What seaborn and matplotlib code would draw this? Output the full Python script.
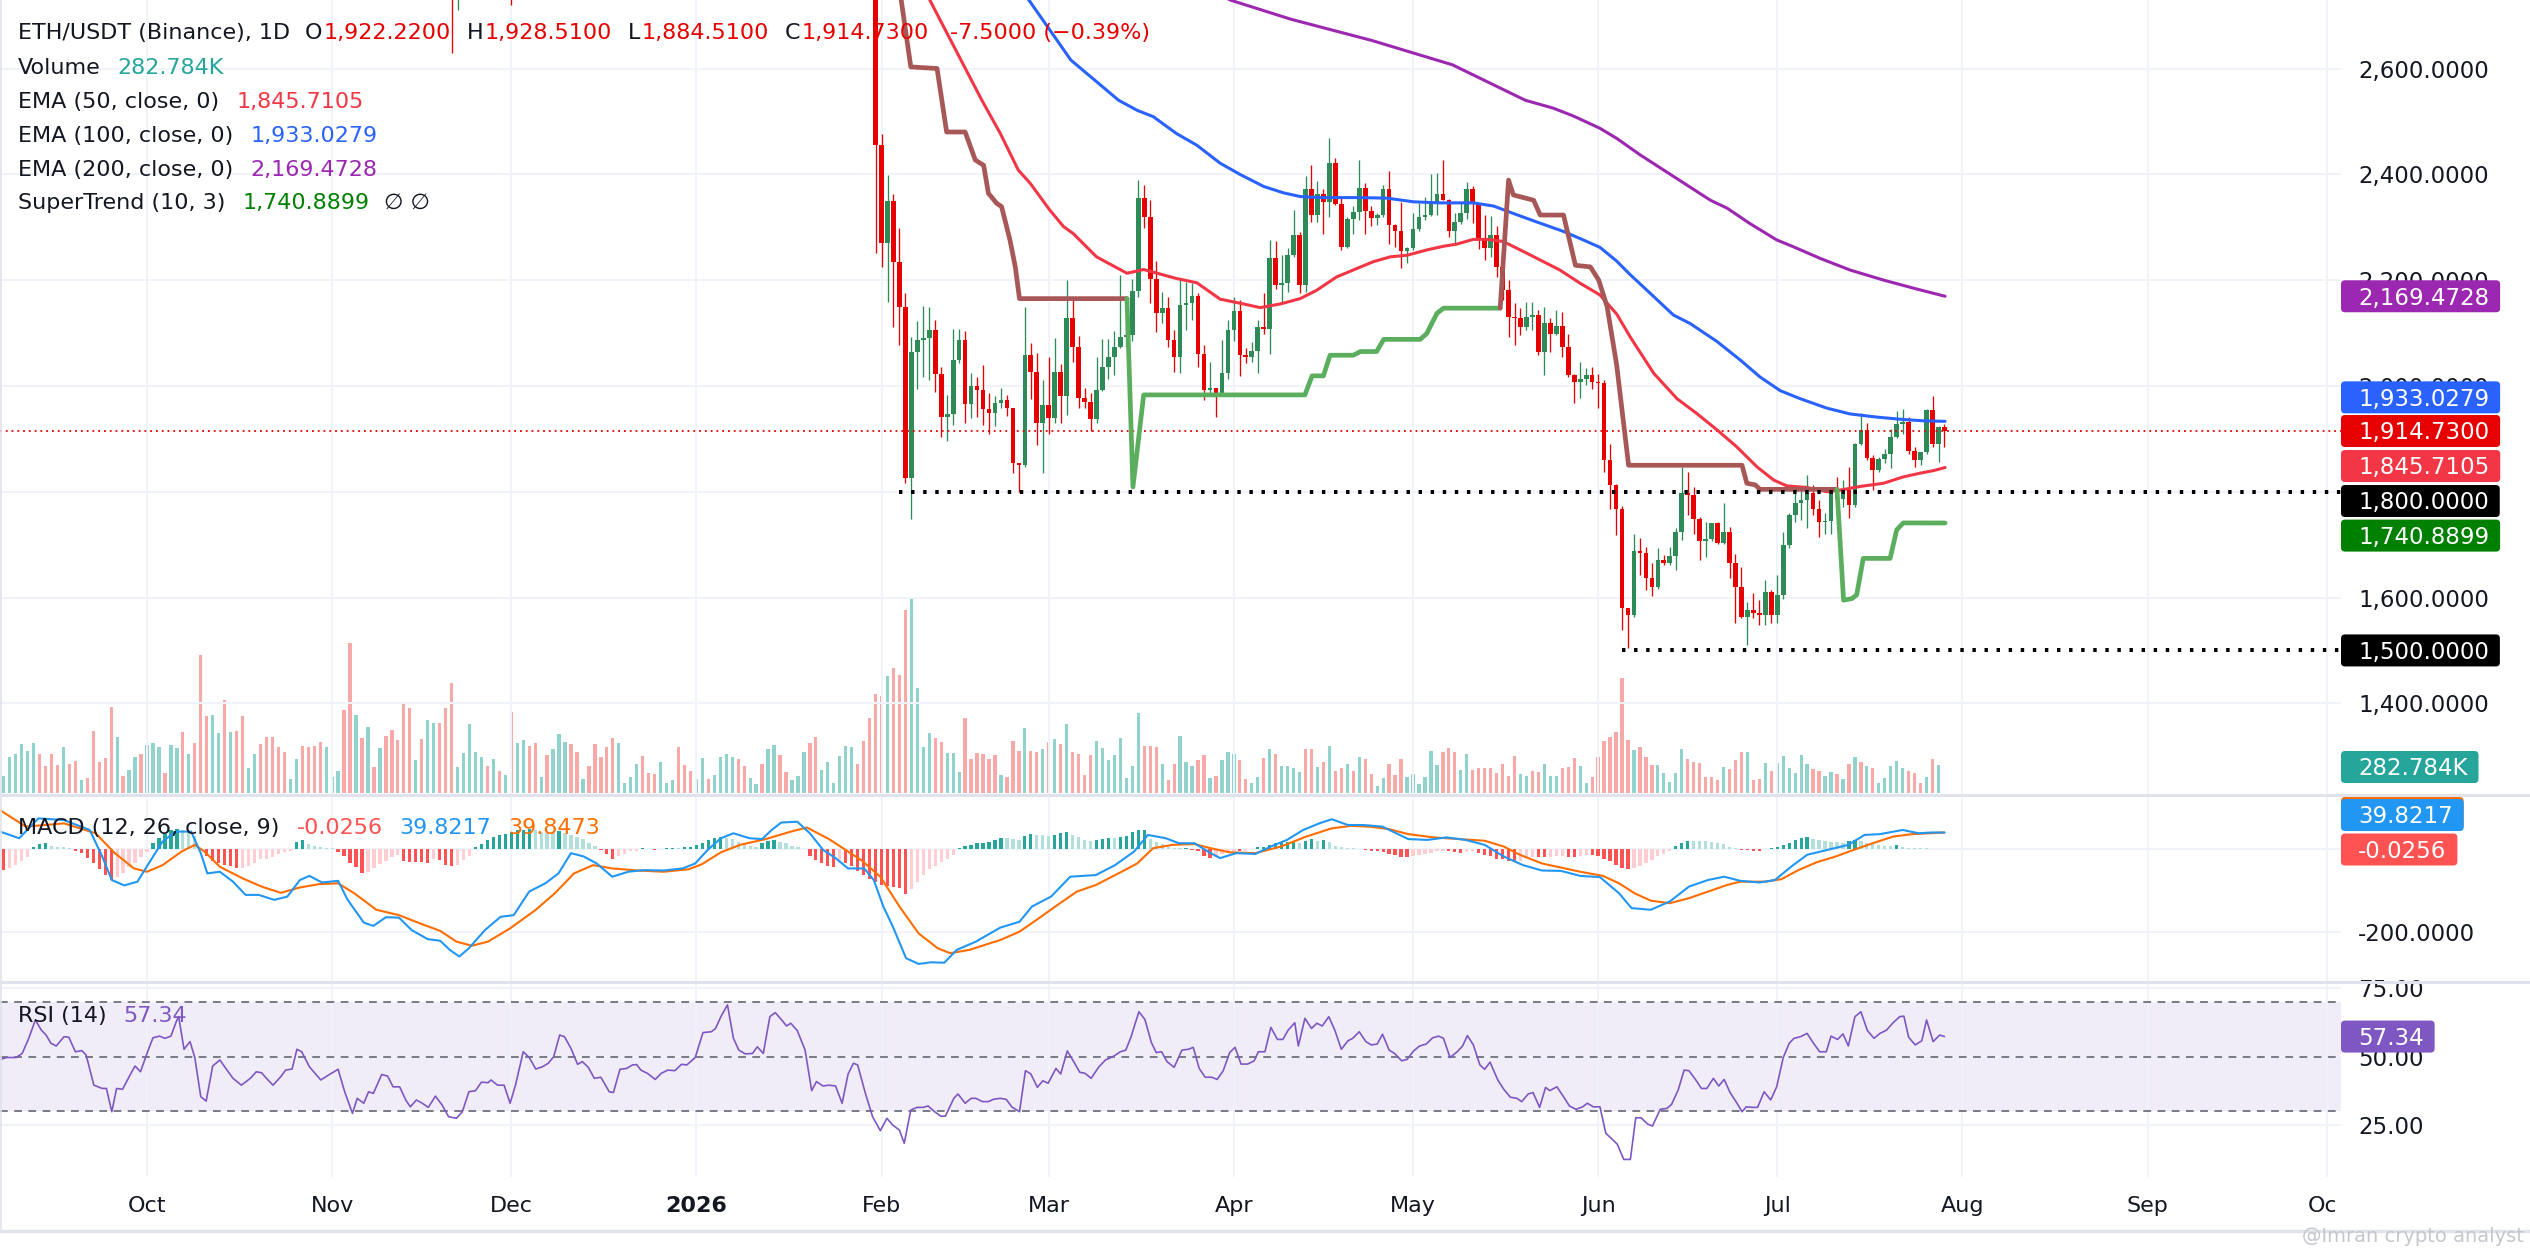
import numpy as np
import pandas as pd
import matplotlib
matplotlib.use("Agg")
import matplotlib.pyplot as plt
import matplotlib.dates as mdates
from matplotlib.patches import FancyBboxPatch, Rectangle
from matplotlib.lines import Line2D
from matplotlib.transforms import IdentityTransform
from matplotlib.ticker import FixedLocator, FuncFormatter
import seaborn as sns

# ============================ DATA ============================
T0 = "2025-10-01"   # day 0 for all *_day arrays

# ---- daily candles ETH/USDT from 2026-01-31 ----
candle_start = "2026-01-31"
opens = [2780,
    2455, 2271, 2349, 2235, 2149, 1825, 2064, 2087, 2090, 2106, 2022, 1941, 1947, 2049, 2087, 1965, 1999, 1992, 1956, 1948,
    1968, 1973, 1958, 1855, 1850, 2058, 2027, 1929,
    1964, 1939, 2027, 1981, 2128, 2073, 1978, 1969, 1937, 1992, 2036, 2054, 2074, 2092, 2096, 2179, 2355, 2319, 2203, 2137,
    2147, 2086, 2054, 2153, 2156, 2170, 2060, 1992, 1996, 1985, 2025,
    2106, 2142, 2058, 2055, 2066, 2112, 2108, 2242, 2191, 2194, 2247, 2286, 2191, 2372, 2324, 2362, 2348, 2422, 2343, 2263,
    2315, 2329, 2375, 2331, 2317, 2323, 2373, 2305, 2292, 2255,
    2260, 2296, 2319, 2323, 2348, 2362, 2351, 2292, 2309, 2327, 2373, 2344, 2276, 2260, 2285, 2225, 2181, 2131, 2128, 2112,
    2131, 2134, 2065, 2118, 2099, 2113, 2073, 2021, 2008, 2014, 2020,
    2008, 2006, 1860, 1813, 1768, 1580, 1567, 1687, 1684, 1636, 1619, 1671, 1665, 1678, 1724, 1797, 1794, 1748, 1707, 1711,
    1740, 1704, 1724, 1665, 1619, 1564, 1576, 1571, 1567, 1611,
    1567, 1605, 1699, 1756, 1778, 1784, 1797, 1768, 1743, 1745, 1797, 1787, 1803, 1775, 1891, 1917, 1863, 1841, 1861, 1871,
    1903, 1928, 1932, 1877, 1860, 1876, 1954, 1891, 1922.22]
highs = [2800,
    2477, 2398, 2362, 2299, 2176, 2093, 2123, 2151, 2149, 2125, 2036, 1982, 2108, 2108, 2104, 2024, 2016, 2040, 1987, 1981,
    1996, 1983, 1958, 1855, 2149, 2082, 2063, 2011,
    2054, 2090, 2041, 2200, 2164, 2094, 1996, 1987, 2054, 2088, 2088, 2103, 2210, 2125, 2203, 2389, 2380, 2351, 2236, 2178,
    2169, 2106, 2200, 2197, 2195, 2175, 2077, 2046, 1996, 2086, 2125,
    2168, 2162, 2072, 2083, 2124, 2175, 2276, 2273, 2247, 2260, 2332, 2291, 2397, 2418, 2387, 2373, 2468, 2430, 2357, 2320,
    2340, 2427, 2383, 2340, 2326, 2380, 2406, 2307, 2348, 2263,
    2326, 2345, 2358, 2401, 2402, 2427, 2353, 2326, 2348, 2386, 2378, 2346, 2323, 2321, 2302, 2225, 2200, 2156, 2147, 2159,
    2158, 2143, 2150, 2128, 2143, 2140, 2099, 2023, 2046, 2033, 2036,
    2022, 2011, 1891, 1814, 1773, 1580, 1721, 1712, 1696, 1665, 1693, 1680, 1696, 1731, 1847, 1838, 1809, 1753, 1743, 1741,
    1742, 1778, 1734, 1682, 1658, 1592, 1608, 1596, 1634, 1614,
    1642, 1724, 1759, 1797, 1806, 1832, 1813, 1784, 1759, 1806, 1828, 1822, 1847, 1892, 1948, 1929, 1869, 1866, 1880, 1918,
    1953, 1956, 1942, 1885, 1876, 1956, 1980, 1925, 1928.51]
lows = [2252,
    2224, 2159, 2112, 2077, 1816, 1748, 1995, 2017, 2011, 1989, 1904, 1896, 1926, 2043, 1929, 1939, 1942, 1926, 1909, 1924,
    1958, 1943, 1836, 1800, 1847, 1976, 1888, 1835,
    1909, 1930, 1930, 1945, 2046, 1958, 1958, 1915, 1930, 1990, 2014, 2021, 2071, 2074, 2084, 2169, 2298, 2156, 2101, 2118,
    2073, 2027, 2024, 2106, 2125, 2036, 1973, 1983, 1941, 1983, 2014,
    2084, 2019, 2043, 2046, 2024, 2099, 2061, 2184, 2159, 2178, 2244, 2176, 2178, 2310, 2310, 2288, 2320, 2342, 2257, 2260,
    2288, 2314, 2288, 2302, 2304, 2320, 2269, 2263, 2222, 2233,
    2257, 2293, 2314, 2321, 2323, 2351, 2282, 2266, 2307, 2315, 2308, 2258, 2238, 2244, 2206, 2162, 2093, 2077, 2096, 2106,
    2106, 2058, 2021, 2065, 2096, 2055, 2017, 1968, 1978, 2002, 1995,
    1958, 1838, 1768, 1718, 1539, 1504, 1564, 1642, 1614, 1602, 1617, 1661, 1661, 1652, 1709, 1756, 1721, 1671, 1677, 1706,
    1702, 1702, 1636, 1551, 1562, 1510, 1561, 1548, 1548, 1551,
    1551, 1598, 1693, 1743, 1746, 1731, 1756, 1715, 1721, 1721, 1784, 1772, 1750, 1771, 1888, 1860, 1803, 1838, 1854, 1844,
    1901, 1910, 1872, 1847, 1851, 1872, 1885, 1857, 1884.51]
closes = [2455,
    2271, 2349, 2235, 2149, 1825, 2064, 2087, 2090, 2106, 2022, 1941, 1947, 2049, 2087, 1965, 1999, 1992, 1956, 1948, 1968,
    1973, 1958, 1855, 1850, 2058, 2027, 1929, 1964,
    1939, 2027, 1981, 2128, 2073, 1978, 1969, 1937, 1992, 2036, 2054, 2074, 2092, 2096, 2179, 2355, 2319, 2203, 2137, 2147,
    2086, 2054, 2153, 2156, 2170, 2060, 1992, 1996, 1985, 2025, 2106,
    2142, 2058, 2055, 2066, 2112, 2108, 2242, 2191, 2194, 2247, 2286, 2191, 2372, 2324, 2362, 2348, 2422, 2343, 2263, 2315,
    2329, 2375, 2331, 2317, 2323, 2373, 2305, 2292, 2255, 2260,
    2296, 2319, 2323, 2348, 2362, 2351, 2292, 2309, 2327, 2373, 2344, 2276, 2260, 2285, 2225, 2181, 2131, 2128, 2112, 2131,
    2134, 2065, 2118, 2099, 2113, 2073, 2021, 2008, 2014, 2020, 2008,
    2006, 1860, 1813, 1768, 1580, 1567, 1687, 1684, 1636, 1619, 1671, 1665, 1678, 1724, 1797, 1794, 1748, 1707, 1711, 1740,
    1704, 1724, 1665, 1619, 1564, 1576, 1571, 1567, 1611, 1567,
    1605, 1699, 1756, 1778, 1784, 1797, 1768, 1743, 1745, 1797, 1787, 1803, 1775, 1891, 1917, 1863, 1841, 1861, 1871, 1903,
    1928, 1932, 1877, 1860, 1876, 1954, 1891, 1922.23, 1914.73]

# ---- older candles (mostly above the visible price range) ----
early_dates = ["2025-11-21", "2025-11-22", "2025-12-01"]
early_open = [2850, 2780, 2900]
early_high = [2900, 2880, 2950]
early_low = [2629, 2711, 2720]
early_close = [2780, 2850, 2800]

# ---- daily volume (thousands) from 2025-09-07 ----
vol_start = "2025-09-07"
volume_k = [
    170, 367, 400, 497, 428, 510, 394, 275, 400, 282, 469, 289, 323, 129, 146, 632, 316, 350, 877, 564,
    170, 231, 367, 394, 486, 510, 469, 204, 486, 452, 622, 394, 510, 1404, 782, 792, 612, 945, 622, 632,
    782, 248, 394, 497, 564, 564, 469, 418, 136, 344, 476, 469, 476, 520, 469, 163, 221, 843, 1530, 792,
    561, 673, 265, 459, 578, 639, 537, 918, 860, 333, 544, 741, 707, 707, 860, 1122, 265, 401, 700, 418,
    360, 272, 344, 221, 180, 823, 510, 537, 476, 510, 163, 384, 442, 598, 520, 497, 418, 136, 272, 497,
    367, 469, 554, 503, 102, 163, 293, 377, 197, 190, 309, 102, 129, 469, 282, 224, 136, 350, 136, 180,
    367, 391, 367, 340, 275, 146, 88, 293, 442, 486, 384, 214, 129, 173, 418, 503, 564, 231, 316, 102,
    374, 476, 469, 293, 530, 758, 1006, 986, 1190, 1268, 1200, 1870, 2000, 1064, 469, 605, 554, 520, 408, 401,
    214, 758, 340, 401, 394, 340, 384,
    180, 163, 527, 425, 663, 425, 415, 446, 520, 548, 497, 700, 411, 394, 180, 384, 527, 459, 333, 384,
    561, 153, 275, 809, 476, 476, 466, 293, 129, 293, 581, 316, 275, 333, 384, 153, 170, 333, 418, 394,
    333, 140, 95, 163, 357, 446, 394, 275, 275, 255, 214, 446, 446, 265, 316, 480, 221, 255, 293, 224,
    367, 344, 187, 71, 153, 293, 180, 344, 163, 190, 88, 163, 425, 282, 418, 459, 418, 231, 394, 231,
    255, 255, 255, 197, 289, 173, 374, 187, 173, 221, 214, 293, 173, 173, 255, 265, 350, 275, 102, 163,
    367, 527, 571, 622, 1166, 537, 435, 469, 367, 282, 282, 197, 112, 204, 446, 344, 316, 306, 163, 163,
    129, 265, 242, 333, 418, 418, 129, 140, 306, 224, 299, 374, 248, 197, 384, 293, 242, 221, 170, 207,
    187, 140, 289, 367, 309, 275, 255, 102, 153, 275, 323, 255, 221, 197, 95, 156, 344, 282.784]
volume_dir = ("uuuuuu dddd u dd u ddddd u d uu d uuu d uu d u ddd uu d u dd uu ddddd uu dddd uuu dd u d u d u "
              "ddddd u d uu ddd uuuuu d u d u d uu dd u d uuu dd u ddddd uuuu ddd uuu ddd uu d uuuu dd uu d uu "
              "dd uuu dd uuuuuu ddddd u ddd uuuu dd uuu dddddd "
              "uddduddudu dudddduuuu uuuudddudd uuudduduuu dduududuuu uddududdud udduuddduu uuuuddduud "
              "ddddddduud duuuddduud dddddduddd uuuuuddddd duddduddud uuuuuudduu dudududuuu uudddudu")

# ---- EMAs (day offset from T0, value) ----
ema50_day = [126, 131.1, 139.8, 142.9, 145.9, 147.9, 151.2, 153.5, 155.1, 159.0, 164.1, 166.9, 172.4, 175.8, 179.7,
             183.6, 186.4, 189.8, 193.1, 195.9, 199.2, 202.6, 205.4, 208.2, 211.0, 214.3, 217.1, 219.3, 222.1, 224.4,
             227.1, 230.5, 233.3, 236.6, 240.0, 243.3, 246.1, 248.4, 252.3, 256.2, 259.5, 262.9, 266.2, 269.6, 272.4,
             274.6, 278.0, 281.3, 283.5, 286.9, 290.8, 294.1, 296.9, 299.2, 301.1]
ema50_val = [2880, 2729, 2540, 2477, 2408, 2383, 2332, 2301, 2288, 2244, 2213, 2220, 2203, 2195, 2164,
             2155, 2148, 2155, 2165, 2181, 2206, 2222, 2235, 2244, 2247, 2257, 2264, 2268, 2277, 2277,
             2273, 2254, 2238, 2219, 2194, 2172, 2136, 2092, 2024, 1976, 1948, 1917, 1885, 1847, 1822,
             1811, 1808, 1800, 1803, 1810, 1816, 1828, 1835, 1840, 1845.7105]
ema100_day = [140, 147.7, 154.7, 162.7, 165.8, 168.5, 172.4, 175.8, 179.7, 183.0, 187.0, 190.3, 193.1, 196.4, 202.6,
              207.6, 212.1, 216.5, 222.1, 225.5, 228.8, 232.7, 237.2, 240.5, 243.3, 246.1, 248.4, 252.3, 255.6, 258.4,
              262.9, 266.8, 270.1, 273.5, 276.8, 281.3, 285.2, 289.7, 293.6, 297.5, 301.1]
ema100_val = [2840, 2729, 2616, 2540, 2521, 2509, 2477, 2455, 2421, 2400, 2377, 2365, 2358, 2356, 2356,
              2355, 2348, 2346, 2346, 2340, 2326, 2310, 2292, 2276, 2262, 2236, 2210, 2169, 2134, 2118,
              2084, 2049, 2017, 1991, 1976, 1958, 1947, 1941, 1937, 1934, 1933.0279]
ema200_day = [170, 181.5, 191.6, 205.1, 218.6, 230.8, 235.5, 238.9, 243.3, 246.1, 250.0, 261.8, 264.6, 268.4, 272.9,
              275.7, 280.2, 285.2, 290.8, 296.4, 301.1]
ema200_val = [2790, 2729, 2693, 2653, 2607, 2540, 2525, 2510, 2487, 2468, 2437, 2351, 2336, 2307, 2276,
              2263, 2241, 2219, 2200, 2183, 2169.4728]

# ---- SuperTrend (10, 3) segments ----
st_dn1_day = [124, 126.3, 127.9, 132.3, 133.9, 137.0, 138.7, 140.1, 140.9, 142.3, 143.1, 144.5, 145.4, 146.1, 164.1]
st_dn1_val = [2800, 2729, 2603, 2600, 2480, 2480, 2427, 2417, 2364, 2345, 2339, 2276, 2225, 2165, 2165]
st_up1_day = [164.1, 165.1, 166.9, 193.9, 195.1, 197.0, 198.1, 202.0, 203.2, 205.9, 207.1, 213.2, 214.3, 216.0, 217.1, 226.6]
st_up1_val = [2165, 1809, 1983, 1983, 2019, 2019, 2058, 2058, 2065, 2065, 2088, 2088, 2099, 2137, 2147, 2147]
st_dn2_day = [226.6, 228.0, 228.8, 232.2, 233.3, 237.2, 239.2, 241.7, 243.1, 244.5, 246.1, 248.1, 267.1, 267.9, 269.3, 270.1, 283.0]
st_dn2_val = [2147, 2389, 2361, 2351, 2323, 2323, 2228, 2225, 2200, 2150, 2040, 1850, 1850, 1816, 1813, 1804.5, 1804.5]
st_up2_day = [283.0, 284.1, 285.5, 286.3, 287.4, 291.9, 293.0, 294.1, 301.1]
st_up2_val = [1804.5, 1595, 1598, 1605, 1674, 1674, 1728, 1741, 1740.8899]

# ---- horizontal level drawings ----
level_values = [1800, 1500]
level_start = ["2026-02-04", "2026-06-05"]

# ---- MACD (12, 26, close, 9) ----
hist_start = "2025-09-07"
macd_hist = [
    -50, -46, -38, -30, -20,
    6, 11, 14, 7, 6, 4, 2,
    -4, -10, -22, -34, -48, -63, -76,
    -68, -57, -44, -33, -20, -7,
    14, 27, 37, 45, 48, 46, 41, 31,
    -3, -16, -29, -34, -38, -42, -46, -45, -40, -33, -25, -23, -20, -12, -8, -5,
    18, 22, 12, 7, 4, 2, 2,
    -8, -18, -35, -43, -57, -55, -45, -37, -29, -20, -15,
    -28, -31, -31, -32, -33, -25, -27, -38, -41, -39, -27, -18,
    5, 12, 22, 29, 33, 37, 41, 45, 47, 48, 46, 42, 38, 38, 44, 38, 34, 30, 23, 15, 8,
    -3, -12, -23, -18, -11, -6, -4,
    2, -1, -2, 1, 2, 3, 3, 4, 6, 10, 15, 22, 26, 30, 26, 23, 18, 12, 7, 6, 14, 20, 22, 18, 14, 8, 6, 1,
    -18, -27, -34, -41, -43, -33, -35, -42, -53, -64, -73, -81, -88, -90, -92, -95, -109, -96, -80, -62, -48, -40, -32, -24, -14,
    2, 7, 10, 14, 15, 18, 21,
    27, 27, 23, 22, 31, 36, 34, 34, 32, 34, 39, 42, 34, 28, 22, 20, 22, 23, 26, 26, 28, 31, 40, 45, 46, 24, 18, 12, 6, 2, 2, 3,
    -3, -6, -17, -21, -19, -12, -8, -4, -6, -4, -1,
    5, 6, 10, 14, 15, 18, 20, 15, 20, 23, 20, 22, 18, 8, 4, 3, 2,
    -1, -3, -4, -6, -8, -12, -15, -19, -20, -17, -15, -12, -10, -6, -4, -5, -7, -10, -8, -4,
    -10, -15, -17, -23, -25, -28, -30, -28, -22, -19, -20, -20, -19, -17, -16, -19, -20, -17, -15, -15,
    -16, -23, -28, -38, -45, -48, -46, -42, -33, -26, -18, -11, -5,
    7, 14, 20, 20, 20, 20, 18, 15, 12, 6, 2,
    -2, -3, -4, -4, -1,
    2, 4, 10, 15, 22, 27, 30, 24, 21, 20, 18, 16, 15, 20, 22, 20, 14, 11, 10, 7, 7, 9, 6, 3, 2, 2, 2, 1, 1,
    -0.0256]
macd_day = [-24.6, -21.4, -18.2, -13.9, -9.6, -7.5, -5.9, -3.8, -1.6, 0.5, 2.6, 4.8, 7.4, 9.0, 10.1, 12.2, 14.4, 16.5,
            18.7, 21.3, 23.5, 25.6, 27.2, 29.3, 32.0, 33.6, 36.3, 37.9, 40.0, 42.2, 44.3, 47.0, 49.1, 50.7, 52.3, 53.9,
            56.6, 59.2, 61.4, 64.0, 66.7, 68.9, 71.0, 73.1, 75.3, 77.9, 80.6, 83.3, 86.5, 89.7, 91.8, 93.9, 96.1, 98.2,
            100.9, 103.0, 104.6, 106.2, 108.9, 111.0, 113.2, 115.3, 117.4, 120.1, 121.7, 123.3, 124.9, 127.1, 129.2,
            131.3, 133.5, 135.6, 138.8, 142.9, 146.1, 148.2, 151.4, 154.6, 158.9, 162.1, 165.3, 167.6, 170.6, 172.8,
            175.4, 178.1, 179.7, 182.4, 185.6, 188.2, 190.9, 193.6, 196.3, 198.4, 201.1, 203.7, 206.9, 211.2, 214.4,
            217.6, 220.8, 224.0, 227.2, 230.4, 233.6, 236.8, 240.0, 243.3, 246.5, 248.6, 251.8, 255.0, 258.2, 261.4,
            264.1, 266.8, 270.0, 272.6, 275.3, 278.0, 281.7, 284.9, 287.6, 290.2, 294.0, 296.7, 298.8, 301.0]
macd_val = [42, 26, 74, 70, 46, -18, -75, -88, -79, -30, 18, 42, 42, -10, -59, -55, -79, -111,
            -111, -123, -115, -75, -65, -81, -77, -123, -178, -186, -165, -166, -196, -218, -222, -244, -260, -240,
            -196, -164, -160, -103, -83, -59, -10, -18, -35, -67, -55, -51, -52, -47, -35, -2, 26, 38,
            26, 24, 46, 64, 66, 38, -2, -22, -47, -47, -75, -139, -188, -264, -278,
            -274, -275, -244, -224, -190, -176, -139, -115, -67, -63, -39, -6, 34, 26, 14,
            14, -10, -22, -10, -12, 6, 22, 46, 62, 72, 58, 58, 54, 24, 22,
            28, 22, 10, -18, -39, -52, -53, -65, -68, -107, -143, -147, -127, -91, -75,
            -67, -77, -81, -75, -43, -14, -1, 10, 34, 36, 46, 38, 40, 39.8217]
sig_day = [-24.6, -20.3, -13.9, -8.6, -5.4, -2.2, 0.0, 2.6, 5.8, 8.0, 9.6, 12.2, 16.0, 19.2, 22.4, 25.6, 28.8, 32.0,
           34.7, 38.4, 42.2, 45.9, 49.1, 51.8, 54.4, 57.1, 60.8, 65.1, 68.3, 71.5, 74.7, 77.9, 82.2, 86.5, 90.7, 92.9,
           96.1, 99.3, 103.6, 107.8, 110.5, 114.2, 119.6, 122.8, 126.0, 129.2, 132.4, 134.5, 137.7, 142.9, 146.1,
           149.3, 152.5, 155.7, 158.9, 163.2, 165.8, 168.5, 171.7, 175.4, 178.1, 181.3, 185.6, 189.9, 194.1, 198.4,
           201.6, 204.8, 208.0, 211.2, 215.5, 219.8, 224.0, 227.2, 229.9, 233.6, 236.8, 240.0, 243.8, 246.5, 249.1,
           251.8, 255.0, 258.2, 261.4, 264.6, 266.8, 271.0, 273.7, 276.4, 279.6, 282.8, 286.0, 289.2, 292.4, 295.6, 301.0]
sig_val = [94, 54, 62, 38, -10, -47, -55, -39, -6, 10, -6, -43, -71, -91, -106, -93, -85, -83,
           -107, -147, -160, -181, -198, -224, -234, -224, -192, -147, -107, -59, -39, -47, -52, -55, -49, -37,
           -8, 10, 24, 42, 52, 24, -27, -67, -139, -204, -240, -252, -244, -220, -200,
           -168, -135, -103, -87, -55, -35, 2, 10, 12, 2, -8, -10, 6, 30, 50,
           56, 54, 48, 36, 28, 24, 20, 6, -14, -35, -45, -55, -65, -83, -107,
           -125, -131, -119, -103, -87, -79, -79, -73, -52, -32, -18, -1, 15, 30, 36, 39.8473]

# ---- RSI (14) ----
rsi_day = [-24.6, -23.5, -21.9, -20.9, -19.8, -18.7, -17.7, -16.9, -16.1, -15.2,
           -13.9, -13.1, -12.0, -10.9, -10.2, -8.9, -7.5, -6.8, -5.9, -5.1,
           -4.1, -2.7, -2.0, -1.1, 0.2, 1.0, 2.1, 3.0, 4.0, 4.9,
           5.3, 6.2, 7.2, 8.0, 9.0, 9.9, 11.0, 12.2, 13.3, 14.4,
           15.8, 17.3, 18.3, 19.2, 20.0, 21.1, 22.4, 23.2, 24.3, 25.1,
           25.9, 27.2, 29.1, 30.4, 32.0, 33.1, 34.4, 35.2, 36.3, 37.1,
           37.9, 39.3, 40.3, 41.2, 42.3, 43.4, 44.1, 45.1, 46.1, 47.1,
           48.3, 49.4, 50.5, 51.8, 52.8, 53.9, 55.0, 56.0, 57.1, 57.6,
           58.7, 59.8, 60.8, 61.7, 63.0, 64.0, 65.1, 66.2, 67.2, 68.1,
           69.1, 69.9, 71.0, 72.1, 72.9, 73.9, 74.9, 76.0, 77.4, 78.1,
           79.2, 80.3, 81.3, 82.0, 82.7, 83.8, 85.1, 86.1, 87.2, 88.4,
           89.5, 90.4, 91.8, 93.1, 94.5, 95.2, 96.1, 97.2, 98.2, 99.1,
           100.2, 101.4, 102.2, 103.2, 104.3, 105.2, 106.2, 107.1, 107.8, 108.9,
           110.2, 111.3, 112.1, 113.2, 114.2, 115.3, 116.4, 117.4, 118.3, 119.0,
           120.3, 121.5, 122.8, 123.9, 124.9, 126.0, 126.8, 127.9, 128.9, 129.9,
           130.8, 131.9, 132.9, 133.7, 135.1, 135.8, 137.0, 138.0, 138.8, 139.9,
           140.9, 141.8, 142.9,
           143.9, 144.8, 146.1, 147.1, 148.0, 149.1, 150.0, 150.9, 152.2, 153.0,
           154.1, 155.1, 156.2, 157.1, 158.1, 159.4, 160.5, 161.9, 163.0, 163.9,
           164.8, 165.3, 166.1, 167.1, 168.2, 169.0, 169.9, 170.8, 172.0, 173.3,
           174.4, 175.2, 176.2, 177.2, 178.3, 179.2, 180.2, 181.3, 182.2, 183.2,
           184.3, 185.4, 186.1, 187.2, 188.2, 189.3, 190.2, 191.1, 192.2, 192.8,
           193.9, 195.0, 195.9, 196.8, 197.9, 198.9, 200.0, 201.1, 201.9, 203.0,
           204.1, 205.0, 206.0, 206.9, 208.0, 208.9, 210.1, 211.0, 212.1, 213.1,
           214.2, 215.3, 216.3, 217.1, 218.2, 219.4, 220.3, 221.1, 222.1, 223.2,
           224.0, 224.9, 226.2, 227.2, 228.3, 229.4, 230.2, 231.3, 232.1, 233.2,
           234.2, 234.9, 236.1, 237.2, 238.2, 239.3, 240.4, 241.2, 242.2, 243.3,
           244.3, 245.2, 246.2, 247.3, 248.4, 249.3, 250.2, 251.3, 252.1, 253.4,
           254.5, 255.3, 256.4, 257.4, 258.2, 259.3, 260.3, 261.2, 262.3, 263.2,
           264.1, 265.1, 266.2, 267.1, 267.8, 268.9, 269.7, 270.8, 271.9, 272.9,
           274.0, 275.0, 275.8, 276.9, 278.0, 279.0, 280.1, 281.2, 282.0, 283.1,
           284.0, 284.9, 286.0, 287.0, 288.1, 289.2, 290.2, 291.3, 292.4, 293.5,
           294.2, 295.0, 296.1, 297.2, 298.0, 299.1, 300.2, 301.0]
rsi_val = [49.0, 49.7, 49.7, 51.2, 56.7, 63.4, 59.7, 57.9, 54.9, 53.9,
           57.3, 57.1, 51.8, 52.2, 50.6, 39.6, 38.4, 38.4, 29.9, 38.4,
           38.1, 43.9, 46.6, 44.5, 52.4, 56.9, 57.5, 56.7, 57.5, 62.8,
           64.6, 52.7, 55.5, 49.7, 35.4, 33.8, 46.6, 48.8, 45.4, 42.1,
           39.6, 42.1, 44.5, 44.1, 42.1, 39.6, 42.7, 45.1, 45.5, 52.7,
           51.8, 46.3, 41.5, 43.3, 45.4, 37.2, 29.3, 34.8, 33.0, 37.2,
           36.6, 43.5, 42.9, 39.0, 39.0, 33.9, 31.7, 34.2, 33.0, 31.5,
           35.6, 32.4, 28.1, 27.5, 29.9, 37.2, 37.6, 40.7, 40.5, 41.5,
           39.6, 39.6, 33.0, 39.6, 51.8, 49.7, 45.5, 46.3, 47.6, 50.0,
           57.9, 57.3, 53.0, 47.2, 48.2, 46.1, 42.1, 42.5, 37.2, 36.9,
           45.4, 45.7, 47.0, 47.1, 45.1, 43.9, 41.7, 43.9, 45.1, 44.9,
           47.2, 47.0, 49.7, 58.8, 59.1, 60.3, 64.6, 68.9, 56.7, 52.4,
           51.0, 51.2, 53.6, 51.2, 64.6, 66.1, 63.6, 61.2, 62.2, 59.5,
           52.4, 37.6, 40.9, 39.3, 39.6, 39.3, 33.0, 43.7, 47.6, 47.0,
           36.6, 28.1, 23.0, 27.5, 25.0, 23.2, 18.4, 30.5, 31.5, 31.5,
           32.0, 29.9, 28.3, 28.3, 34.8, 36.4, 33.0, 34.8, 34.8, 33.6,
           33.6, 34.5, 34.8,
           34.4, 31.7, 29.9, 44.9, 43.7, 38.8, 41.2, 40.3, 45.7, 43.7,
           52.1, 48.5, 44.3, 43.9, 42.1, 46.3, 48.8, 50.2, 51.8, 52.4,
           57.3, 60.9, 66.4, 63.6, 55.1, 51.5, 51.8, 48.2, 46.1, 52.4,
           52.7, 53.4, 45.7, 42.5, 42.5, 41.7, 44.8, 51.5, 53.4, 47.3,
           47.3, 48.5, 51.8, 51.8, 60.7, 56.3, 56.3, 59.7, 62.4, 53.9,
           64.0, 60.3, 62.2, 61.2, 64.6, 59.7, 52.7, 55.8, 56.7, 59.1,
           55.5, 54.3, 54.6, 58.2, 52.4, 51.2, 48.5, 49.0, 52.1, 53.9,
           54.6, 56.9, 57.5, 56.7, 49.7, 51.8, 53.9, 57.7, 54.3, 47.0,
           45.4, 48.0, 41.5, 38.1, 35.2, 34.8, 33.6, 36.4, 36.9, 31.5,
           38.8, 37.6, 39.0, 35.4, 32.0, 30.8, 31.7, 33.0, 31.7, 31.7,
           22.0, 20.2, 18.1, 12.5, 12.5, 27.7, 27.7, 25.4, 24.7, 30.8,
           31.1, 32.6, 37.8, 45.1, 44.9, 41.7, 38.4, 38.4, 42.1, 39.3,
           41.7, 36.9, 33.2, 29.9, 31.7, 31.5, 31.5, 37.2, 34.2, 39.0,
           49.7, 54.9, 56.7, 57.3, 58.5, 55.1, 51.8, 51.8, 57.5, 56.3,
           58.3, 53.9, 64.6, 66.4, 59.5, 56.7, 58.5, 59.7, 62.4, 64.6,
           64.8, 57.1, 54.3, 55.8, 63.4, 55.5, 57.9, 57.34]

# ============================ CHECKS ============================
for name, a, b in [("opens", opens, closes), ("highs", highs, closes), ("lows", lows, closes),
                   ("ema50", ema50_day, ema50_val), ("ema100", ema100_day, ema100_val),
                   ("ema200", ema200_day, ema200_val), ("macd", macd_day, macd_val),
                   ("sig", sig_day, sig_val), ("rsi", rsi_day, rsi_val)]:
    if len(a) != len(b):
        raise ValueError(f"length mismatch {name}: {len(a)} vs {len(b)}")
vdir = volume_dir.replace(" ", "")
if len(vdir) != len(volume_k):
    raise ValueError(f"volume dir {len(vdir)} vs {len(volume_k)}")

# ============================ STYLE ============================
sns.set_theme(style="white")
plt.rcParams['font.family'] = ['DejaVu Sans']

W, H, DPI = 2530, 1253, 100
PLOT_R = 2341
MAIN_B, MACD_B, RSI_B = 795.0, 981.6, 1176.7
DARK = '#131722'
UP, DN = '#2E8A57', '#E60000'
GRID = '#F0F3FA'
SEP = '#E0E3EB'

fig = plt.figure(figsize=(W / DPI, H / DPI), dpi=DPI, facecolor='white')


def rect(top, bottom):
    return [0, 1 - bottom / H, PLOT_R / W, (bottom - top) / H]


axv = fig.add_axes(rect(0, MAIN_B))
ax = fig.add_axes(rect(0, MAIN_B), sharex=axv)
axm = fig.add_axes(rect(MAIN_B, MACD_B), sharex=axv)
axr = fig.add_axes(rect(MACD_B, RSI_B), sharex=axv)
axv.set_zorder(1)
ax.set_zorder(2)
ax.patch.set_visible(False)

base = mdates.date2num(pd.Timestamp(T0))
xd = lambda days: base + np.asarray(days, dtype=float)

# ---------------- volume ----------------
vdates = mdates.date2num(pd.date_range(vol_start, periods=len(volume_k), freq='D'))
vcols = ['#92D2CC' if ch == 'u' else '#F7A9A7' for ch in vdir]
axv.bar(vdates, volume_k, width=0.55, color=vcols, linewidth=0)
axv.set_ylim(-23.5, 8093)
axv.axis('off')

# ---------------- candles ----------------
def draw_candles(xs, o, h, l, c):
    o, h, l, c = (np.asarray(v, float) for v in (o, h, l, c))
    cols = np.where(c >= o, UP, DN)
    ax.vlines(xs, l, h, colors=cols, linewidth=0.95, zorder=3)
    ax.bar(xs, np.maximum(np.abs(c - o), 1.6), bottom=np.minimum(o, c), width=0.78,
           color=cols, linewidth=0, zorder=4)

cdates = mdates.date2num(pd.date_range(candle_start, periods=len(closes), freq='D'))
draw_candles(cdates, opens, highs, lows, closes)
draw_candles(mdates.date2num(pd.to_datetime(early_dates)), early_open, early_high, early_low, early_close)

# ---------------- EMAs / SuperTrend ----------------
def line(a, days, vals, color, lw, z):
    sns.lineplot(x=xd(days), y=np.asarray(vals, float), ax=a, color=color, linewidth=lw,
                 estimator=None, sort=False, zorder=z, solid_joinstyle='round', solid_capstyle='round')

line(ax, ema200_day, ema200_val, '#9C27B0', 2.2, 6)
line(ax, ema100_day, ema100_val, '#2962FF', 2.2, 6)
line(ax, ema50_day, ema50_val, '#F23645', 2.2, 6)
ST_DN, ST_UP = '#A85757', '#5BAE5D'
line(ax, st_dn1_day, st_dn1_val, ST_DN, 3.4, 7)
line(ax, st_up1_day, st_up1_val, ST_UP, 3.4, 7)
line(ax, st_dn2_day, st_dn2_val, ST_DN, 3.4, 7)
line(ax, st_up2_day, st_up2_val, ST_UP, 3.4, 7)

XMIN, XMAX = base - 24.62, base + 367.4
ax.axhline(closes[-1], color=DN, linewidth=1.3, linestyle=(0, (1.0, 2.2)), zorder=5)
for lv, st in zip(level_values, level_start):
    ax.hlines(lv, mdates.date2num(pd.Timestamp(st)), XMAX, colors='black', linewidth=2.9,
              linestyles=[(0, (0.85, 2.15))], zorder=8)

ax.set_ylim(1226.7, 2729.5)

# ---------------- MACD ----------------
hist = np.asarray(macd_hist, float)
hdates = mdates.date2num(pd.date_range(hist_start, periods=len(hist), freq='D'))
prev = np.concatenate([[hist[0]], hist[:-1]])
hcols = np.where(hist >= 0, np.where(prev < hist, '#26A69A', '#B2DFDB'),
                 np.where(prev < hist, '#FFCDD2', '#FF5252'))
axm.bar(hdates, hist, width=0.55, color=hcols, linewidth=0, zorder=2)
line(axm, macd_day, macd_val, '#2196F3', 1.5, 4)
line(axm, sig_day, sig_val, '#FF6D00', 1.5, 3)
axm.set_ylim(-320.7, 130.6)

# ---------------- RSI ----------------
axr.axhspan(30, 70, color='#7E57C2', alpha=0.1, linewidth=0, zorder=0)
for lv in (70, 50, 30):
    axr.axhline(lv, color='#787B86', linewidth=1.4, linestyle=(0, (4, 3.3)), zorder=1)
line(axr, rsi_day, rsi_val, '#7E57C2', 1.2, 3)
axr.set_ylim(6.2, 77.4)

# ---------------- axes cosmetics ----------------
month_starts = pd.date_range('2025-10-01', '2026-10-01', freq='MS')
mlocs = mdates.date2num(month_starts)
mlabels = ['2026' if d.month == 1 else d.strftime('%b') for d in month_starts]

# price-scale labels that sit fully under a value tag are not drawn (as on the reference)
hidden_main = {level_values[0]}
ax.yaxis.set_major_locator(FixedLocator([1400, 1600, 1800, 2000, 2200, 2400, 2600]))
ax.yaxis.set_major_formatter(FuncFormatter(lambda v, p: '' if v in hidden_main else f'{v:,.4f}'))
axm.yaxis.set_major_locator(FixedLocator([-200, 0]))
axm.yaxis.set_major_formatter(FuncFormatter(lambda v, p: '' if v == 0 else f'{v:,.4f}'))
axr.yaxis.set_major_locator(FixedLocator([25, 50, 75]))
axr.yaxis.set_major_formatter(FuncFormatter(lambda v, p: f'{v:.2f}'))

for a in (ax, axm, axr):
    a.set_xlabel('')
    a.set_ylabel('')
    a.yaxis.tick_right()
    a.tick_params(axis='y', length=0, pad=12.2, labelsize=16.5, labelcolor=DARK)
    a.tick_params(axis='x', length=0)
    a.grid(True, color=GRID, linewidth=1.4)
    a.set_axisbelow(True)
    for s in a.spines.values():
        s.set_visible(False)
ax.tick_params(labelbottom=False)
axm.tick_params(labelbottom=False)

axr.set_xticks(mlocs)
labels = axr.set_xticklabels(mlabels)
for t in labels:
    if t.get_text() == '2026':
        t.set_fontweight('bold')
axr.tick_params(axis='x', labelsize=16, pad=14, labelcolor=DARK)
axr.set_xlim(XMIN, XMAX)

# ---------------- separators ----------------
for yy, lw in ((MAIN_B, 2.2), (MACD_B, 2.2), (1231, 2.4)):
    fig.add_artist(Line2D([0, W], [H - yy, H - yy], transform=IdentityTransform(),
                          color=SEP, linewidth=lw, zorder=19))
fig.add_artist(Line2D([1, 1], [H - 1231, H], transform=IdentityTransform(), color=SEP, linewidth=1.2, zorder=19))
fig.add_artist(Rectangle((PLOT_R - 6, H - 1226), W - PLOT_R + 6, 48, transform=IdentityTransform(),
                         facecolor='white', edgecolor='none', zorder=18))

# ---------------- value tags on the price scale ----------------
renderer = fig.canvas.get_renderer()
BOX_X0 = PLOT_R
_z = [20]


def tag(axis, value, text, color, shift=0.0, fs=16.5, h=32):
    yc = H - axis.transData.transform((0, value))[1] + shift
    em = fs * DPI / 72.0
    t = fig.text((BOX_X0 + 17) / W, (H - yc - 0.3645 * em) / H, text, color='white',
                 fontsize=fs, ha='left', va='baseline', zorder=_z[0] + 1)
    bb = t.get_window_extent(renderer)
    fig.add_artist(FancyBboxPatch((BOX_X0, H - yc - h / 2), bb.x1 + 11 - BOX_X0, h,
                                  boxstyle='round,pad=0,rounding_size=4', transform=IdentityTransform(),
                                  facecolor=color, edgecolor='none', zorder=_z[0]))
    _z[0] += 2


tag(ax, ema200_val[-1], f'{ema200_val[-1]:,.4f}', '#9C27B0')
tag(ax, ema100_val[-1], f'{ema100_val[-1]:,.4f}', '#2962FF', shift=-24)
tag(ax, closes[-1], f'{closes[-1]:,.4f}', DN)
tag(ax, ema50_val[-1], f'{ema50_val[-1]:,.4f}', '#F23645', shift=-1.5)
tag(ax, level_values[0], f'{level_values[0]:,.4f}', '#000000', shift=9.3)
tag(ax, st_up2_val[-1], f'{st_up2_val[-1]:,.4f}', '#008000', shift=12.6)
tag(ax, level_values[1], f'{level_values[1]:,.4f}', '#000000')
tag(axv, volume_k[-1], f'{volume_k[-1]:.3f}K', '#26A69A', shift=2)
tag(axm, sig_val[-1], f'{sig_val[-1]:.4f}', '#FF6D00', shift=-19.5)
tag(axm, macd_val[-1], f'{macd_val[-1]:.4f}', '#2196F3', shift=-17.5)
tag(axm, hist[-1], f'{hist[-1]:.4f}', '#FF5252', shift=0.5)
tag(axr, rsi_val[-1], f'{rsi_val[-1]:.2f}', '#7E57C2')

# ---------------- legends ----------------
def chain(y_img, items, x0=18, fs=16):
    x = x0
    for text, color, gap in items:
        x += gap
        t = fig.text(x / W, 1 - y_img / H, text, color=color, fontsize=fs, ha='left', va='center', zorder=40)
        x = t.get_window_extent(renderer).x1

chg = closes[-1] - closes[-2]
pct = chg / closes[-2] * 100
sign = '\u2212' if pct < 0 else '+'
chain(33, [('ETH/USDT (Binance), 1D', DARK, 0), ('O', DARK, 15), (f'{opens[-1]:,.4f}', DN, 1),
           ('H', DARK, 16), (f'{highs[-1]:,.4f}', DN, 1), ('L', DARK, 16), (f'{lows[-1]:,.4f}', DN, 1),
           ('C', DARK, 16), (f'{closes[-1]:,.4f}', DN, 1),
           (f'{chg:.4f} ({sign}{abs(pct):.2f}%)', DN, 22)])
chain(68, [('Volume', DARK, 0), (f'{volume_k[-1]:.3f}K', '#26A69A', 17)])
chain(102, [('EMA (50, close, 0)', DARK, 0), (f'{ema50_val[-1]:,.4f}', '#F23645', 17)])
chain(136, [('EMA (100, close, 0)', DARK, 0), (f'{ema100_val[-1]:,.4f}', '#2962FF', 17)])
chain(170, [('EMA (200, close, 0)', DARK, 0), (f'{ema200_val[-1]:,.4f}', '#9C27B0', 17)])
chain(203, [('SuperTrend (10, 3)', DARK, 0), (f'{st_up2_val[-1]:,.4f}', '#008000', 17), ('\u2205 \u2205', DARK, 15)])
chain(828, [('MACD (12, 26, close, 9)', DARK, 0), (f'{hist[-1]:.4f}', '#FF5252', 17),
            (f'{macd_val[-1]:.4f}', '#2196F3', 17), (f'{sig_val[-1]:.4f}', '#FF6D00', 17)])
chain(1016, [('RSI (14)', DARK, 0), (f'{rsi_val[-1]:.2f}', '#7E57C2', 17)])

fig.text(2524 / W, 1 - 1236 / H, '@Imran crypto analyst', ha='right', va='center',
         fontsize=14, color='#C4C7CD', zorder=41)

fig.savefig('out.png', dpi=DPI, facecolor='white')
